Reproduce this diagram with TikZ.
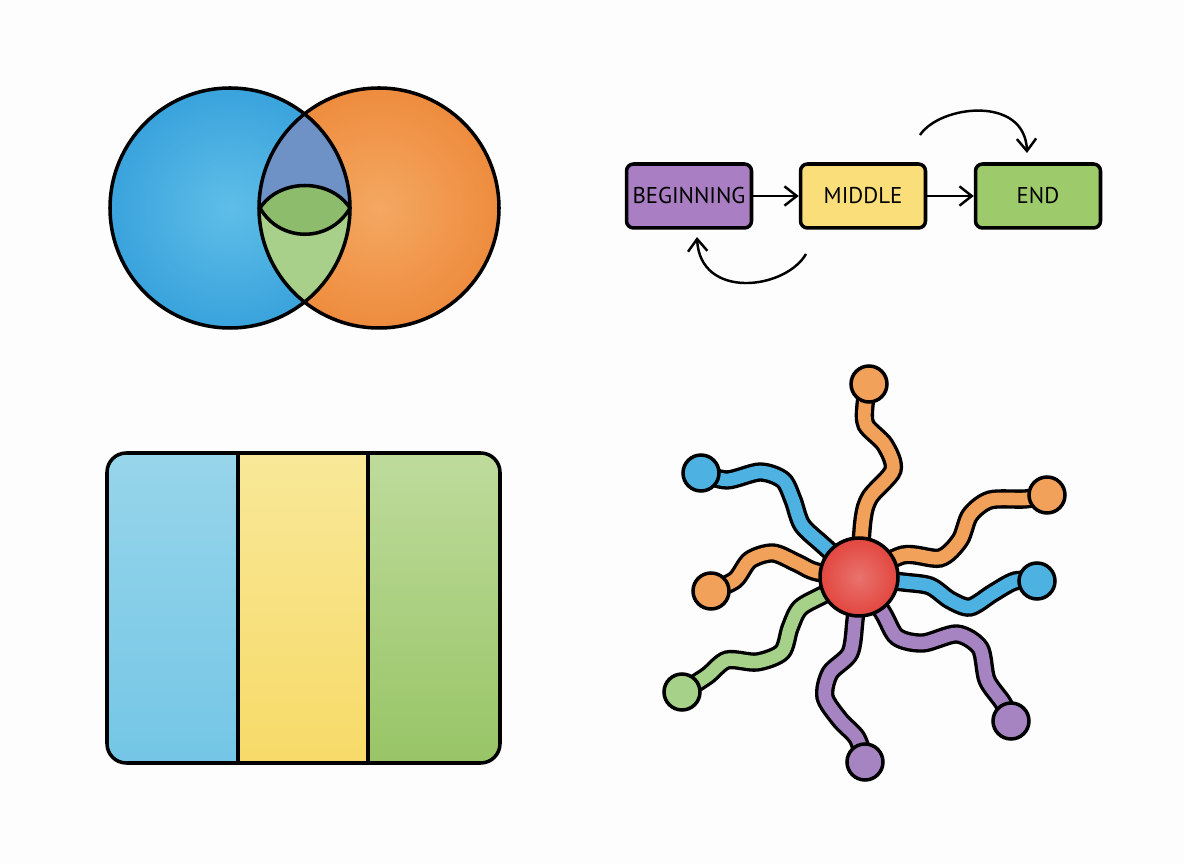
\documentclass[tikz,border=0pt]{standalone}
\usepackage{fontspec}
\newfontfamily\boxfont{PT Sans}
\usepackage{xcolor}
\usepackage{tikz}
\usetikzlibrary{arrows.meta}

\definecolor{pagebg}{HTML}{FDFDFD}
\definecolor{vennbluein}{HTML}{5EBEE8}
\definecolor{vennblueout}{HTML}{3AA3DC}
\definecolor{vennorangein}{HTML}{F4A862}
\definecolor{vennorangeout}{HTML}{EE8C3E}
\definecolor{lensblue}{HTML}{6E92C6}
\definecolor{lensgreen}{HTML}{A9D08A}
\definecolor{eyegreen}{HTML}{8DBC6C}
\definecolor{stagepurple}{HTML}{A97EC2}
\definecolor{stageyellow}{HTML}{F9DE7A}
\definecolor{stagegreen}{HTML}{9DCB6C}
\definecolor{paneltopA}{HTML}{97D5EA}
\definecolor{panelbotA}{HTML}{74C6E6}
\definecolor{paneltopB}{HTML}{F8E898}
\definecolor{panelbotB}{HTML}{F7DA68}
\definecolor{paneltopC}{HTML}{BEDB9C}
\definecolor{panelbotC}{HTML}{98C566}
\definecolor{tubeorange}{HTML}{F2A15A}
\definecolor{tubeblue}{HTML}{4DB2E2}
\definecolor{tubegreen}{HTML}{A6D188}
\definecolor{tubepurple}{HTML}{A683C1}
\definecolor{hubin}{HTML}{E9736D}
\definecolor{hubout}{HTML}{E2463F}

\pgfdeclarelayer{back}
\pgfsetlayers{back,main}

\begin{document}
\begin{tikzpicture}[x=0.02cm, y=-0.02cm,
  outline/.style={draw=black, line width=2pt},
  stagebox/.style={outline, rounded corners=4pt, minimum width=2.5cm, minimum height=1.28cm,
    font=\boxfont\fontsize{13}{15}\selectfont},
  flowarrow/.style={-{Straight Barb[length=7pt, width=11pt]}, line width=1.4pt},
  bulb/.style={outline, circle, minimum size=0.72cm, inner sep=0pt},
  tube/.style={line width=7.2pt, preaction={draw=black, line width=11pt}}
]

\begin{pgfonlayer}{back}
  \fill[pagebg] (0,0) rectangle (1184,864);
\end{pgfonlayer}
\useasboundingbox (0,0) rectangle (1184,864);

% Venn circles
\def\vrad{120}
\coordinate (vl) at (230,208);
\coordinate (vr) at (379,208);
\shade[inner color=vennbluein, outer color=vennblueout] (vl) circle[radius=\vrad];
\shade[inner color=vennorangein, outer color=vennorangeout] (vr) circle[radius=\vrad];
\begin{scope}
  \clip (vl) circle[radius=\vrad];
  \fill[lensgreen] (vr) circle[radius=\vrad];
  \clip (vr) circle[radius=\vrad];
  \fill[lensblue] (250,80) rectangle (360,208);
  \fill[eyegreen] (260,208) .. controls (280,178) and (330,178) .. (350,208)
    .. controls (330,243) and (280,243) .. (260,208);
\end{scope}
\draw[outline] (vl) circle[radius=\vrad];
\draw[outline] (vr) circle[radius=\vrad];
\draw[outline] (260,208) .. controls (280,178) and (330,178) .. (350,208)
  .. controls (330,243) and (280,243) .. (260,208);

% Stages
\node[stagebox, fill=stagepurple] (beginning) at (689,196) {BEGINNING};
\node[stagebox, fill=stageyellow] (middle) at (863,196) {MIDDLE};
\node[stagebox, fill=stagegreen] (ending) at (1038,196) {END};

\draw[flowarrow] (beginning) -- (middle);
\draw[flowarrow] (middle) -- (ending);

\coordinate (skipfrom) at (920,135);
\coordinate (skipto) at (1027,153);
\draw[flowarrow] (skipfrom) .. controls (940,105) and (1025,95) .. (skipto);

\coordinate (backfrom) at (806,254);
\coordinate (backto) at (697,237);
\draw[flowarrow] (backfrom) .. controls (785,290) and (700,300) .. (backto);

% Three-part panel
\begin{scope}
  \clip[rounded corners=11pt] (107,453) rectangle (500,763);
  \shade[top color=paneltopA, bottom color=panelbotA] (107,453) rectangle (238,763);
  \shade[top color=paneltopB, bottom color=panelbotB] (238,453) rectangle (368,763);
  \shade[top color=paneltopC, bottom color=panelbotC] (368,453) rectangle (500,763);
\end{scope}
\draw[outline, rounded corners=11pt] (107,453) rectangle (500,763);
\draw[outline] (238,453) -- (238,763);
\draw[outline] (368,453) -- (368,763);

% Hub and tentacles
\node[outline, circle, minimum size=1.56cm, inner sep=0pt, inner color=hubin, outer color=hubout] (hub) at (859,577) {};
\node[bulb, fill=tubeorange] (tipN)  at (869,384) {};
\node[bulb, fill=tubeblue]   (tipNW) at (701,473) {};
\node[bulb, fill=tubeorange] (tipNE) at (1047,495) {};
\node[bulb, fill=tubeorange] (tipW)  at (711,591) {};
\node[bulb, fill=tubeblue]   (tipE)  at (1037,581) {};
\node[bulb, fill=tubegreen]  (tipSW) at (682,692) {};
\node[bulb, fill=tubepurple] (tipS)  at (865,762) {};
\node[bulb, fill=tubepurple] (tipSE) at (1011,721) {};

\begin{pgfonlayer}{back}
  \draw[tube, tubeorange] plot[smooth] coordinates {(hub.center) (863,520) (870,497) (893,470) (885,445) (866,425) (865,405) (tipN.center)};
  \draw[tube, tubeblue] plot[smooth] coordinates {(hub.center) (823,545) (802,525) (793,500) (783,480) (760,472) (727,480) (tipNW.center)};
  \draw[tube, tubeorange] plot[smooth] coordinates {(hub.center) (903,555) (940,558) (960,540) (970,515) (990,500) (1025,499) (tipNE.center)};
  \draw[tube, tubeorange] plot[smooth] coordinates {(hub.center) (817,572) (797,563) (773,553) (750,560) (735,580) (tipW.center)};
  \draw[tube, tubeblue] plot[smooth] coordinates {(hub.center) (903,582) (930,586) (950,600) (970,607) (993,593) (1015,581) (tipE.center)};
  \draw[tube, tubegreen] plot[smooth] coordinates {(hub.center) (823,595) (800,608) (790,628) (782,652) (757,662) (727,660) (707,676) (tipSW.center)};
  \draw[tube, tubepurple] plot[smooth] coordinates {(hub.center) (855,620) (850,653) (830,673) (825,697) (840,720) (857,738) (tipS.center)};
  \draw[tube, tubepurple] plot[smooth] coordinates {(hub.center) (883,613) (897,637) (923,643) (957,634) (980,648) (987,680) (1003,703) (tipSE.center)};
\end{pgfonlayer}

\end{tikzpicture}
\end{document}
